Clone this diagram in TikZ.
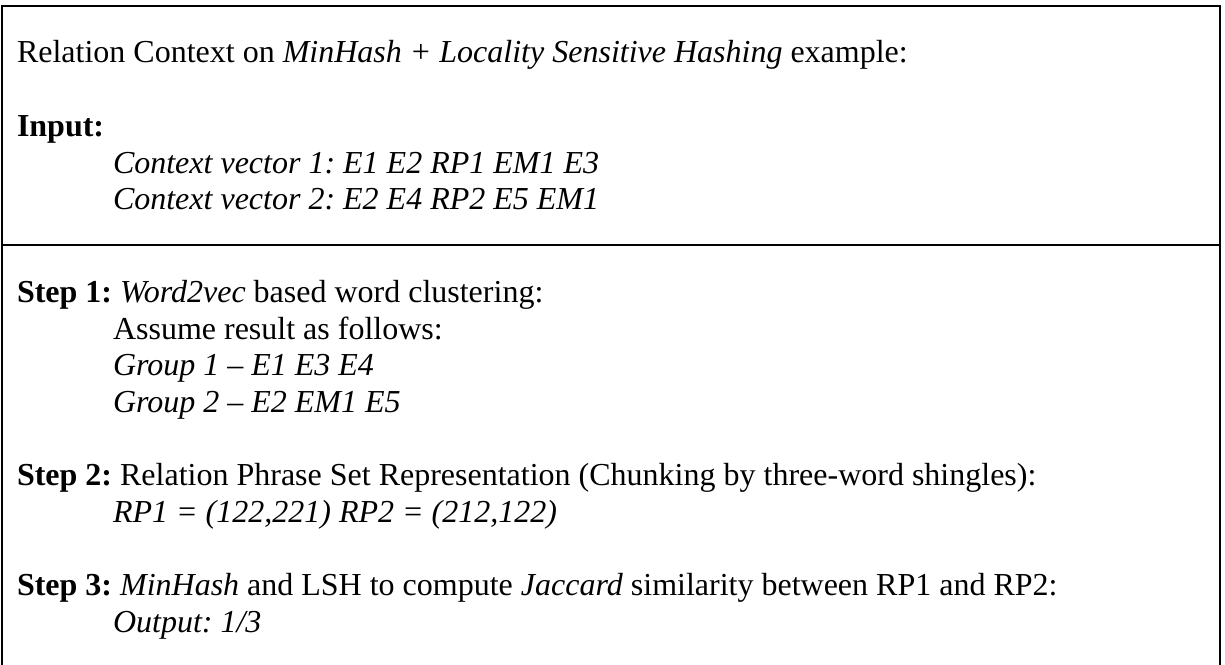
\documentclass[tikz,border=0pt]{standalone}
\usepackage{fontspec}
\setmainfont{Liberation Serif}
\frenchspacing
\begin{document}
\begin{tikzpicture}[x=1pt,y=1pt,
  txt/.style={anchor=base west,inner sep=0pt,outer sep=0pt,font=\fontsize{32}{36}\selectfont},
  frame/.style={line width=2pt}]
\useasboundingbox (0,0) rectangle (1225,-664);
% frame
\coordinate (bl) at (1.5,-680);
\coordinate (tl) at (1.5,-6);
\coordinate (tr) at (1219.5,-6);
\coordinate (br) at (1219.5,-680);
\coordinate (dl) at (1.5,-245);
\coordinate (dr) at (1219.5,-245);
\draw[frame] (bl) -- (tl) -- (tr) -- (br);
\draw[frame] (dl) -- (dr);
% top cell
\node[txt] (title) at (17,-62) {Relation Context on \textit{MinHash + Locality Sensitive Hashing} example:};
\node[txt] (input) at (17,-136) {\textbf{Input:}};
\node[txt] (cv1) at (113,-173) {\textit{Context vector 1: E1 E2 RP1 EM1 E3}};
\node[txt] (cv2) at (113,-209) {\textit{Context vector 2: E2 E4 RP2 E5 EM1}};
% bottom cell
\node[txt] (s1) at (17,-302) {\textbf{Step 1:} \textit{Word2vec} based word clustering:};
\node[txt] (s1a) at (113,-339) {Assume result as follows:};
\node[txt] (g1) at (113,-375) {\textit{Group 1 -- E1 E3 E4}};
\node[txt] (g2) at (113,-412) {\textit{Group 2 -- E2 EM1 E5}};
\node[txt] (s2) at (17,-485) {\textbf{Step 2:} Relation Phrase Set Representation (Chunking by three-word shingles):};
\node[txt] (rp) at (113,-522) {\textit{RP1 = (122,221) RP2 = (212,122)}};
\node[txt] (s3) at (17,-595) {\textbf{Step 3:} \textit{MinHash} and LSH to compute \textit{Jaccard} similarity between RP1 and RP2:};
\node[txt] (out) at (113,-632) {\textit{Output: 1/3}};
\end{tikzpicture}
\end{document}
